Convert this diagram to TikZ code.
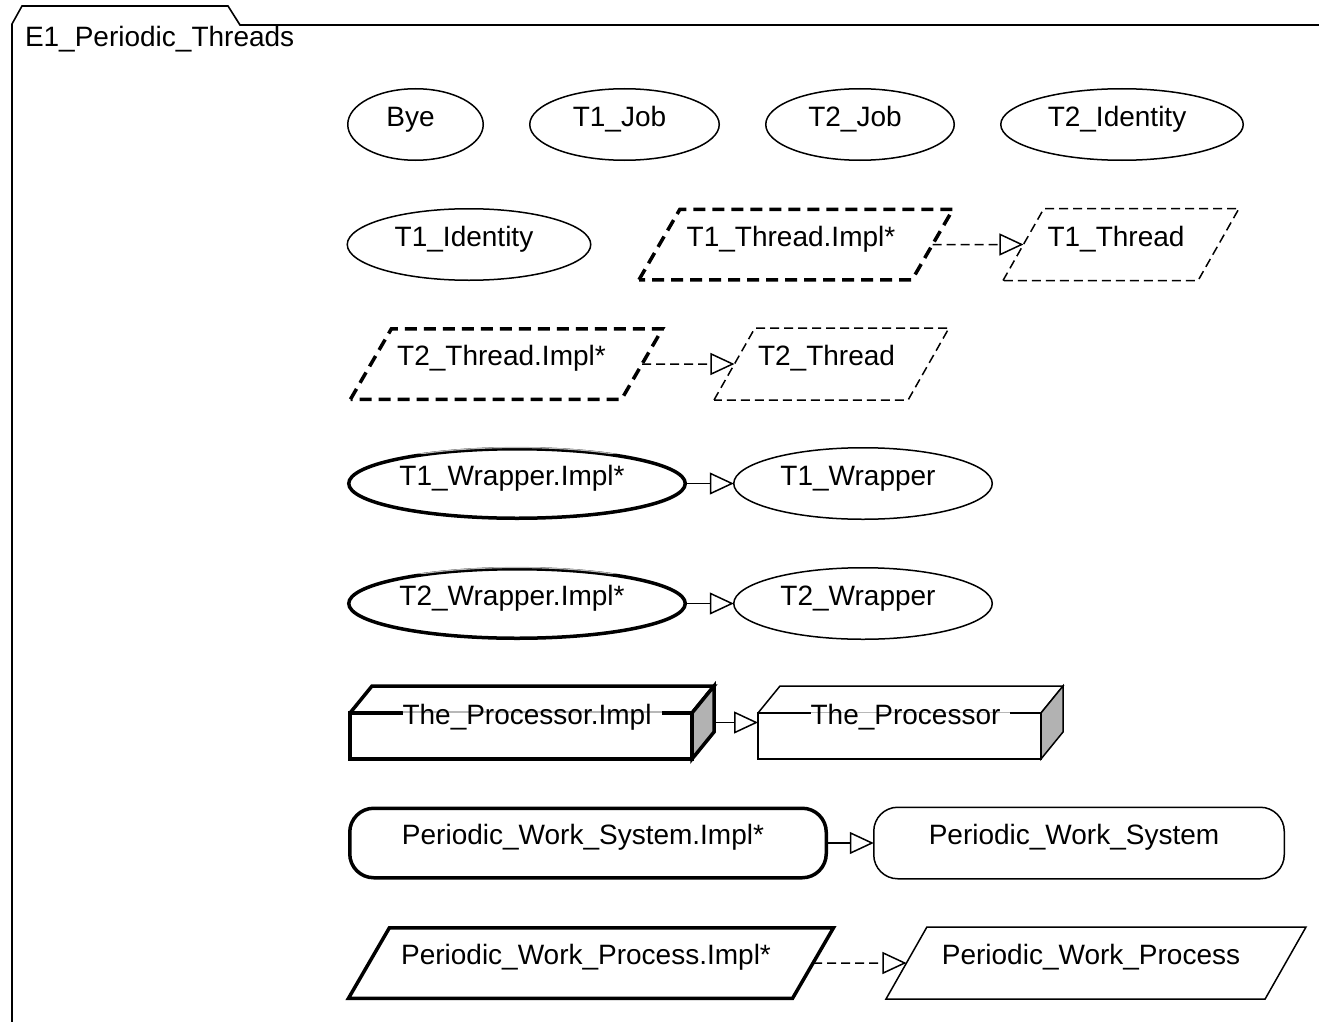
\documentclass[tikz,border=0pt]{standalone}
\usepackage{fontspec}
\setmainfont{Liberation Sans}
\usetikzlibrary{shapes.geometric,arrows.meta,calc}
\pgfdeclarelayer{under}
\pgfsetlayers{under,main}

% faces of a 3D block drawn around an invisible node: front, top and shaded side
\newcommand\blockfaces[2]{%
  \draw[#2] (#1.south west) rectangle ($(#1.north east)+(-22,27)$);
  \draw[#2] ($(#1.north west)+(0,27)$) -- ($(#1.north west)+(22,0)$) -- (#1.north east) -- ($(#1.north east)+(-22,27)$);
  \draw[#2, fill=black!30] ($(#1.north east)+(-22,27)$) -- (#1.north east) -- ($(#1.south east)+(0,-27)$) -- ($(#1.south east)+(-22,0)$) -- cycle;
}
% label strip over the front top edge of a block
\newcommand\blockstrip[3]{%
  \draw[white, line width=4.5pt] ($(#2.west |- #1.north)+(0,27)$) -- ($(#2.east |- #1.north)+(0,27)$);
  \draw[black!28, line width=1.5pt] ($(#2.west |- #1.north)+(0,#3)$) -- ($(#2.east |- #1.north)+(0,#3)$);
}

\begin{document}
\begin{tikzpicture}[x=1pt, y=-1pt,
  every node/.style={font=\fontsize{28}{33}\selectfont, inner sep=0pt, outer sep=0pt},
  thinln/.style={line width=1.5pt},
  thickln/.style={line width=3.5pt},
  dashthick/.style={dash pattern=on 12pt off 7pt},
  dashthin/.style={dash pattern=on 9pt off 5pt},
  txt/.style={text height=22.3pt, text depth=18.6pt, execute at end node={\kern10pt}},
  oval/.style={ellipse, draw, thinln, minimum height=71.5pt, txt},
  ovalimpl/.style={ellipse, draw, thickln, minimum height=69.5pt, txt},
  para/.style={trapezium, trapezium left angle=45, trapezium right angle=135,
    trapezium stretches body, draw, txt},
  parathin/.style={para, thinln, minimum height=72pt},
  parathick/.style={para, thickln, minimum height=70.5pt},
  rbox/.style={rectangle, rounded corners=24pt, draw, thinln, minimum height=71.5pt, txt},
  rboximpl/.style={rectangle, rounded corners=24pt, draw, thickln, minimum height=69.5pt, txt},
  block/.style={rectangle, minimum height=73pt},
  conn/.style={thinln, -{Triangle[open, length=24pt, width=22pt]}},
  frameln/.style={line width=1.6pt, line join=miter}
]
\useasboundingbox (0,0) rectangle (1319,1022);

% package frame with its tab
\draw[frameln] (12,1040) -- (12,24) -- (22,6) -- (228,6) -- (240,25) -- (1340,25);
\node[txt, anchor=west] (title) at (25,44.5) {E1\_Periodic\_Threads};
\begin{pgfonlayer}{under}
  \draw[white, line width=3pt] (235,17) -- (240,25) -- (title.east |- 0,25);
  \draw[black!28, line width=1.4pt] (235,17) -- (240,25) -- (title.east |- 0,25);
\end{pgfonlayer}

% row 1
\node[oval, minimum width=135.5pt] (bye)   at (415.5,124.5) {Bye};
\node[oval, minimum width=189.5pt] (t1job) at (624.5,124.5) {T1\_Job};
\node[oval, minimum width=188.5pt] (t2job) at (860,124.5)   {T2\_Job};
\node[oval, minimum width=242.5pt] (t2id)  at (1122,124.5)  {T2\_Identity};

% row 2
\node[oval, minimum width=243.5pt] (t1id) at (469,244.5) {T1\_Identity};
\node[parathick, dashthick, minimum width=314pt] (t1thi) at (796,244.5) {T1\_Thread.Impl*};
\node[parathin, dashthin, minimum width=236pt] (t1th) at (1121,244.5) {T1\_Thread};
\draw[conn, dashthin] (t1thi) -- (t1th);

% row 3
\node[parathick, dashthick, minimum width=312pt] (t2thi) at (506.5,364) {T2\_Thread.Impl*};
\node[parathin, dashthin, minimum width=235pt] (t2th) at (831.5,364) {T2\_Thread};
\draw[conn, dashthin] (t2thi) -- (t2th);

% rows 4 and 5
\node[ovalimpl, minimum width=336.5pt] (t1wi) at (517,483.5) {T1\_Wrapper.Impl*};
\node[oval, minimum width=258.5pt] (t1w) at (863,483.5) {T1\_Wrapper};
\draw[conn] (t1wi) -- (t1w);
\node[ovalimpl, minimum width=336.5pt] (t2wi) at (517,603.5) {T2\_Wrapper.Impl*};
\node[oval, minimum width=258.5pt] (t2w) at (863,603.5) {T2\_Wrapper};
\draw[conn] (t2wi) -- (t2w);
\foreach \n in {t1wi,t2wi}{
  \begin{scope}
    \clip ($(\n.center)+(-119,-42)$) rectangle ($(\n.center)+(118,-30)$);
    \draw[black!28, line width=1.2pt] (\n.center) ellipse [x radius=169.5pt, y radius=36pt];
  \end{scope}
}

% row 6: processor blocks
\node[block, minimum width=364pt] (proci) at (532,722.5) {};
\node[txt] (procit) at (proci) {The\_Processor.Impl};
\node[block, minimum width=305pt] (proc) at (910.5,722.5) {};
\node[txt] (proct) at (proc) {The\_Processor};
\begin{pgfonlayer}{under}
  \blockfaces{proci}{thickln}
  \blockstrip{proci}{procit}{26}
  \blockfaces{proc}{thinln}
  \blockstrip{proc}{proct}{26.5}
\end{pgfonlayer}
\draw[conn] (proci) -- (proc);

% row 7
\node[rboximpl, minimum width=476.5pt] (pwsi) at (588,843) {Periodic\_Work\_System.Impl*};
\node[rbox, minimum width=410.5pt] (pws) at (1079,843) {Periodic\_Work\_System};
\draw[conn] (pwsi) -- (pws);

% row 8
\node[parathick, minimum width=485pt] (pwpi) at (591,963) {Periodic\_Work\_Process.Impl*};
\node[parathin, minimum width=420pt] (pwp) at (1096,963) {Periodic\_Work\_Process};
\draw[conn, dashthin] (pwpi) -- (pwp);
\end{tikzpicture}
\end{document}
